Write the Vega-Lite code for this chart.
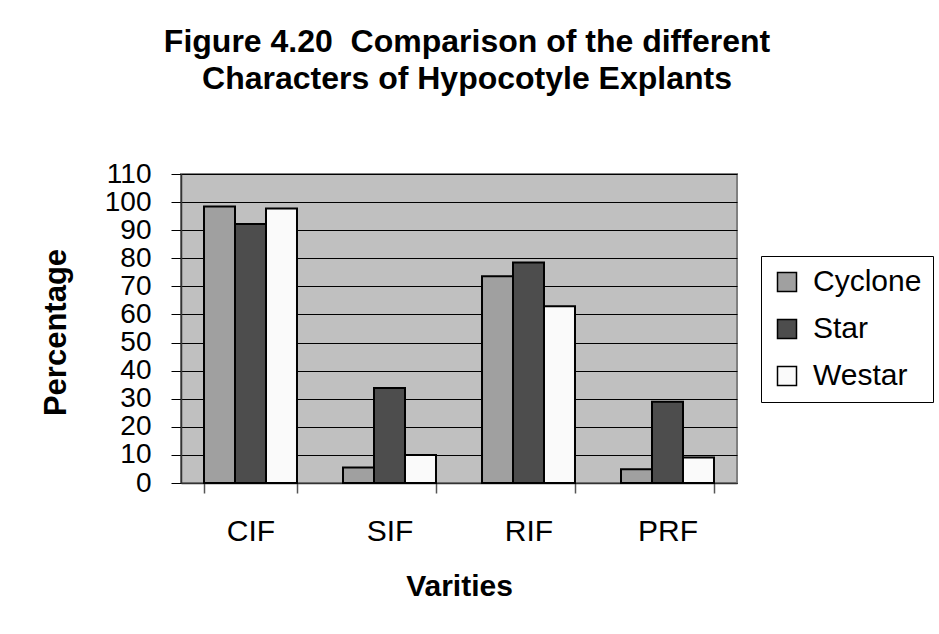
{
  "$schema": "https://vega.github.io/schema/vega-lite/v6.json",
  "width": 556,
  "height": 309,
  "autosize": {"type": "none"},
  "padding": {"left": 181, "top": 174, "right": 202, "bottom": 151},
  "background": "white",
  "title": {
    "text": ["Figure 4.20\u00a0\u00a0Comparison of the different", "Characters of Hypocotyle Explants"],
    "font": "Liberation Sans",
    "fontSize": 32,
    "fontWeight": "bold",
    "color": "black",
    "lineHeight": 37,
    "anchor": "middle",
    "frame": "group",
    "dx": 8,
    "offset": 64
  },
  "data": {
    "values": [
      {"character": "CIF", "variety": "Cyclone", "percentage": 98.4},
      {"character": "CIF", "variety": "Star", "percentage": 92.2},
      {"character": "CIF", "variety": "Westar", "percentage": 97.7},
      {"character": "SIF", "variety": "Cyclone", "percentage": 5.5},
      {"character": "SIF", "variety": "Star", "percentage": 33.8},
      {"character": "SIF", "variety": "Westar", "percentage": 10.0},
      {"character": "RIF", "variety": "Cyclone", "percentage": 73.6},
      {"character": "RIF", "variety": "Star", "percentage": 78.5},
      {"character": "RIF", "variety": "Westar", "percentage": 62.9},
      {"character": "PRF", "variety": "Cyclone", "percentage": 4.9},
      {"character": "PRF", "variety": "Star", "percentage": 28.9},
      {"character": "PRF", "variety": "Westar", "percentage": 9.1}
    ]
  },
  "mark": {"type": "bar", "stroke": "black", "strokeWidth": 2},
  "encoding": {
    "x": {
      "field": "character",
      "type": "nominal",
      "sort": ["CIF", "SIF", "RIF", "PRF"],
      "scale": {"paddingInner": 0.331, "paddingOuter": 0.1655},
      "axis": {
        "title": "Varities",
        "titleFont": "Liberation Sans",
        "titleFontSize": 30,
        "titleFontWeight": "bold",
        "titleColor": "black",
        "titleBaseline": "alphabetic",
        "titleY": 112,
        "labelFont": "Liberation Sans",
        "labelFontSize": 30,
        "labelColor": "black",
        "labelAngle": 0,
        "labelBaseline": "alphabetic",
        "labelPadding": 47,
        "tickBand": "extent",
        "tickSize": 10,
        "tickColor": "#555555",
        "tickWidth": 1.5,
        "domainColor": "#333333",
        "domainWidth": 1.5,
        "grid": false
      }
    },
    "xOffset": {
      "field": "variety",
      "type": "nominal",
      "sort": ["Cyclone", "Star", "Westar"],
      "scale": {"paddingInner": 0, "paddingOuter": 0}
    },
    "y": {
      "field": "percentage",
      "type": "quantitative",
      "scale": {"domain": [0, 110], "nice": false},
      "axis": {
        "title": "Percentage",
        "titleFont": "Liberation Sans",
        "titleFontSize": 31,
        "titleFontWeight": "bold",
        "titleColor": "black",
        "titleAngle": 270,
        "titleBaseline": "alphabetic",
        "titleAlign": "center",
        "titleX": -116,
        "titleY": 158,
        "values": [0, 10, 20, 30, 40, 50, 60, 70, 80, 90, 100, 110],
        "labelFont": "Liberation Sans",
        "labelFontSize": 28,
        "labelColor": "black",
        "labelPadding": 20,
        "labelOverlap": false,
        "labelBound": false,
        "labelFlush": false,
        "tickSize": 10,
        "tickColor": "black",
        "tickWidth": 1,
        "domainColor": "#333333",
        "domainWidth": 1.5,
        "grid": true,
        "gridColor": "black",
        "gridWidth": 1,
        "gridOpacity": 1
      }
    },
    "fill": {
      "field": "variety",
      "type": "nominal",
      "sort": ["Cyclone", "Star", "Westar"],
      "scale": {"domain": ["Cyclone", "Star", "Westar"], "range": ["#a0a0a0", "#4d4d4d", "#fafafa"]},
      "legend": {
        "title": null,
        "orient": "none",
        "legendX": 580,
        "legendY": 82,
        "fillColor": "white",
        "strokeColor": "black",
        "padding": 11,
        "rowPadding": 17,
        "symbolType": "square",
        "symbolSize": 361,
        "symbolStrokeColor": "black",
        "symbolStrokeWidth": 1.5,
        "symbolOpacity": 1,
        "labelFont": "Liberation Sans",
        "labelFontSize": 30,
        "labelColor": "black",
        "labelOffset": 11,
        "labelLimit": 300
      }
    }
  },
  "config": {
    "view": {"fill": "#c0c0c0", "stroke": "#808080", "strokeWidth": 2}
  }
}
